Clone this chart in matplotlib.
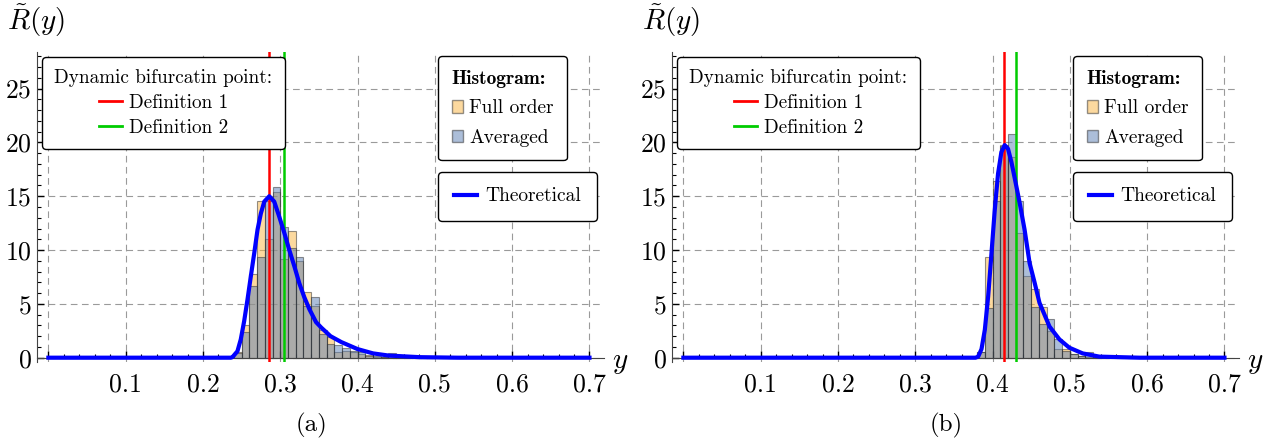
import numpy as np
import matplotlib.pyplot as plt
from matplotlib.lines import Line2D
from matplotlib.patches import Patch
from matplotlib.ticker import MultipleLocator, FuncFormatter

plt.rcParams['mathtext.fontset'] = 'cm'
plt.rcParams['font.family'] = ['cmr10']
plt.rcParams['axes.unicode_minus'] = False
plt.rcParams['axes.formatter.use_mathtext'] = True

# histogram bins (width 0.01)
bin_w = 0.01

# panel (a)
a_full = [0.5, 3.0, 7.8, 14.6, 11.0, 15.4, 9.2, 11.8, 9.0, 6.1, 4.8, 2.6, 1.9,
          0.5, 0.6, 0.5, 0.3, 0.25, 0.1, 0.1, 0.1, 0.05, 0.0, 0.05, 0.05, 0.0]
a_avg = [0.4, 2.4, 6.7, 9.4, 14.6, 15.9, 12.1, 10.2, 9.4, 4.8, 5.6, 2.2, 1.3,
         1.2, 0.9, 0.6, 0.5, 0.2, 0.15, 0.1, 0.4, 0.05, 0.05, 0.0, 0.1, 0.0]
a_edges = 0.24 + bin_w * np.arange(len(a_full))
a_curve_x = [0.0, 0.236, 0.2381, 0.2446, 0.2489, 0.2533, 0.2576, 0.2620, 0.2663,
             0.2706, 0.2749, 0.2793, 0.2858, 0.2922, 0.2987, 0.3052, 0.3117,
             0.3182, 0.3247, 0.3312, 0.3377, 0.3463, 0.353, 0.365, 0.379, 0.40,
             0.42, 0.44, 0.48, 0.53, 0.7]
a_curve_y = [0.0, 0.0, 0.05, 0.6, 1.7, 3.4, 5.4, 7.6, 9.7, 11.9, 13.4, 14.5, 15.0,
             14.5, 13.1, 11.6, 10.0, 8.5, 6.9, 5.6, 4.5, 3.3, 2.8, 2.0, 1.45, 0.8,
             0.4, 0.2, 0.05, 0.0, 0.0]
a_def1 = 0.2857
a_def2 = 0.3044

# panel (b)
b_full = [0.5, 9.35, 16.4, 19.8, 18.6, 11.6, 7.6, 6.4, 4.7, 2.5, 0.77, 0.8,
          0.3, 0.2, 0.1, 0.1, 0.05]
b_avg = [0.5, 4.6, 14.6, 19.7, 20.8, 14.6, 9.0, 4.7, 3.15, 3.55, 1.7, 0.6,
         0.3, 0.2, 0.55, 0.1, 0.05]
b_edges = 0.38 + bin_w * np.arange(len(b_full))
b_curve_x = [0.0, 0.378, 0.3814, 0.3857, 0.39, 0.3943, 0.3986, 0.4028, 0.4071,
             0.4114, 0.4157, 0.42, 0.4243, 0.4286, 0.435, 0.4414, 0.4479, 0.4543,
             0.4607, 0.4736, 0.4865, 0.4993, 0.5165, 0.538, 0.59, 0.7]
b_curve_y = [0.0, 0.0, 0.1, 0.8, 2.6, 5.7, 9.7, 13.7, 17.1, 19.1, 19.75, 19.4,
             18.2, 16.7, 14.4, 11.9, 8.8, 7.0, 5.1, 2.9, 1.7, 0.93, 0.4, 0.1,
             0.0, 0.0]
b_def1 = 0.4148
b_def2 = 0.430

x_ticks = [0.0, 0.1, 0.2, 0.3, 0.4, 0.5, 0.6, 0.7]
y_ticks = [0, 5, 10, 15, 20, 25]

c_full = '#FBB441'
c_avg = '#5B7FB5'
c_edge = '#2a2a2a'

W, H = 1274, 443
fig = plt.figure(figsize=(W / 100, H / 100), dpi=100)


def panel(left_px, edges, full, avg, cx, cy, d1, d2, tag):
    ax = fig.add_axes([left_px / W, 81 / H, 567 / W, 310 / H])
    ax.set_xlim(-0.0147, 0.7188)
    ax.set_ylim(-0.4, 28.4)
    for s in ['top', 'right']:
        ax.spines[s].set_visible(False)
    ax.spines['bottom'].set_position(('data', 0))
    ax.spines['left'].set_color('#444444')
    ax.spines['bottom'].set_color('#444444')

    ax.set_xticks(x_ticks)
    ax.xaxis.set_major_formatter(FuncFormatter(lambda v, p: '' if v == 0 else f'{v:.1f}'))
    ax.xaxis.set_minor_locator(MultipleLocator(0.02))
    ax.set_yticks(y_ticks)
    ax.yaxis.set_minor_locator(MultipleLocator(1))
    ax.tick_params(axis='x', which='major', direction='in', length=5, width=1, labelsize=18.5, pad=11)
    ax.tick_params(axis='x', which='minor', direction='in', length=3, width=0.8)
    ax.tick_params(axis='y', which='major', direction='in', length=5, width=1, labelsize=18.5, pad=4)
    ax.tick_params(axis='y', which='minor', direction='in', length=3, width=0.8)
    ax.grid(True, which='major', linestyle=(0, (6, 4)), color='#9a9a9a', lw=0.8)
    ax.set_axisbelow(True)

    ax.bar(edges, full, width=bin_w, align='edge', color=c_full, alpha=0.5,
           edgecolor=c_edge, linewidth=0.8, zorder=2)
    ax.bar(edges, avg, width=bin_w, align='edge', color=c_avg, alpha=0.5,
           edgecolor=c_edge, linewidth=0.8, zorder=2)
    ax.axvline(d1, color='#ff0000', lw=1.8, zorder=3)
    ax.axvline(d2, color='#00cc00', lw=1.8, zorder=3)
    ax.plot(cx, cy, color='#0000ff', lw=3, zorder=4, solid_joinstyle='round')

    off = left_px - 37
    fig.text((7 + off) / W, 1 - 39 / H, r'$\tilde{R}(y)$', fontsize=21,
             ha='left', va='bottom')
    fig.text((612 + off) / W, 1 - 368 / H, r'$y$', fontsize=21, ha='left', va='baseline')
    fig.text((311 + off) / W, 1 - 431 / H, tag, fontsize=18, ha='center', va='baseline')

    leg1 = ax.legend(handles=[Line2D([], [], color='#ff0000', lw=2),
                              Line2D([], [], color='#00cc00', lw=2)],
                     labels=['Definition 1', 'Definition 2'],
                     title='Dynamic bifurcatin point:', title_fontsize=13.8,
                     fontsize=13.8, loc='upper left',
                     bbox_to_anchor=((42 + off) / W, 1 - 57 / H),
                     bbox_transform=fig.transFigure, borderaxespad=0,
                     handlelength=1.2, handletextpad=0.4, labelspacing=0.35,
                     borderpad=0.65, framealpha=1, edgecolor='black')
    leg1.get_frame().set_linewidth(1.0)
    ax.add_artist(leg1)

    leg2 = ax.legend(handles=[Patch(facecolor=c_full, alpha=0.5, edgecolor=c_edge),
                              Patch(facecolor=c_avg, alpha=0.5, edgecolor=c_edge)],
                     labels=['Full order', 'Averaged'],
                     title='Histogram:',
                     title_fontproperties={'family': 'cmb10', 'size': 14},
                     fontsize=14, loc='upper left', alignment='left',
                     bbox_to_anchor=((438 + off) / W, 1 - 56 / H),
                     bbox_transform=fig.transFigure, borderaxespad=0,
                     handlelength=0.6, handleheight=0.6, handletextpad=0.3,
                     labelspacing=0.6, borderpad=0.7, framealpha=1, edgecolor='black')
    leg2.get_frame().set_linewidth(1.0)
    ax.add_artist(leg2)

    leg3 = ax.legend(handles=[Line2D([], [], color='#0000ff', lw=3)],
                     labels=['Theoretical'], fontsize=14, loc='upper left',
                     bbox_to_anchor=((438 + off) / W, 1 - 172 / H),
                     bbox_transform=fig.transFigure, borderaxespad=0,
                     handlelength=1.2, handletextpad=0.45, borderpad=0.8,
                     framealpha=1, edgecolor='black')
    leg3.get_frame().set_linewidth(1.0)
    return ax


panel(37, a_edges, a_full, a_avg, a_curve_x, a_curve_y, a_def1, a_def2, '(a)')
panel(672, b_edges, b_full, b_avg, b_curve_x, b_curve_y, b_def1, b_def2, '(b)')

fig.savefig('out.png', dpi=100)
